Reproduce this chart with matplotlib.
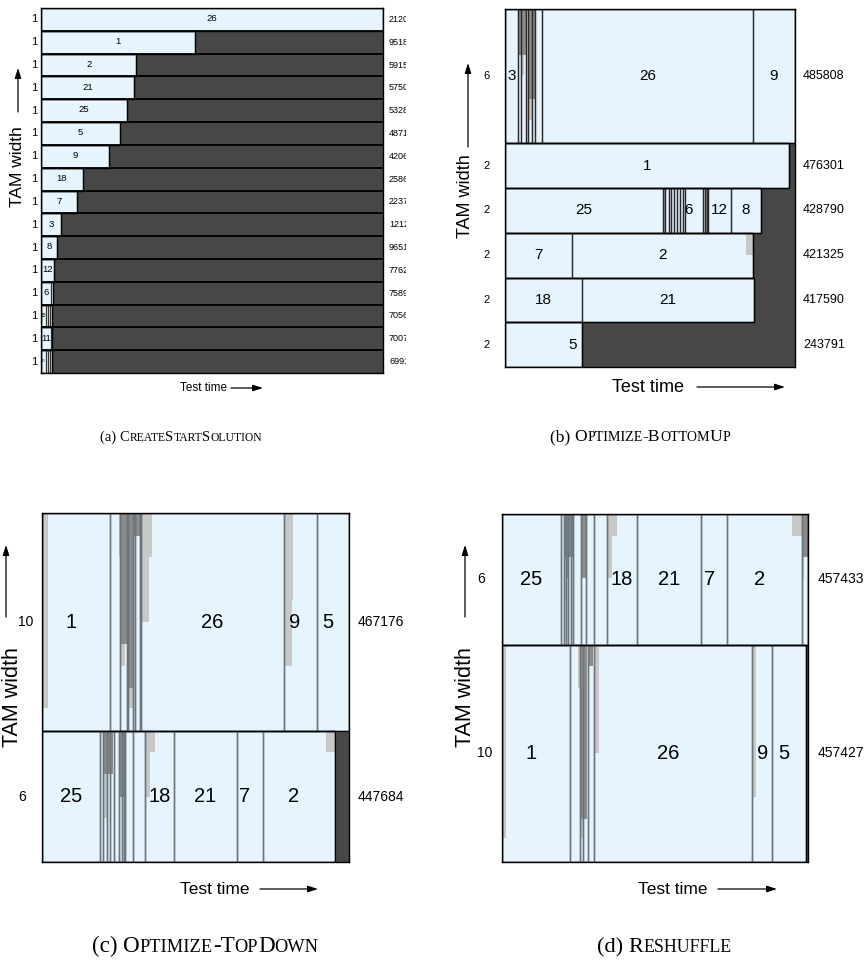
import matplotlib
matplotlib.use('Agg')
import matplotlib.pyplot as plt
from matplotlib.patches import FancyArrowPatch
from matplotlib.transforms import Bbox, TransformedBbox, blended_transform_factory

W, H = 867, 964
fig = plt.figure(figsize=(W / 100, H / 100), dpi=100)

LIGHT = '#e6f4fe'
DARK = '#474747'
MID = '#8c8c8c'
PALE = '#c8c8c8'
GREY = '#a0a0a0'
SANS = ['Liberation Sans', 'DejaVu Sans']
SERIF = ['Liberation Serif', 'DejaVu Serif']

# ---------------- data ----------------
# (a) CreateStartSolution: every core on its own 1-bit TAM
a_cores = ['26', '1', '2', '21', '25', '5', '9', '18', '7', '3', '8', '12', '6', '15', '11', '20']
a_tam = [1] * 16
a_totals = [2120462, 951894, 591522, 575018, 532880, 487124, 420654, 258668,
            223727, 121236, 96513, 77628, 75894, 70564, 70078, 69916]
a_splits = {'6': [61000], '15': [30000, 42000, 55000], '11': [60000], '20': [28000, 42000, 55000]}

# (b) Optimize-BottomUp: rows top to bottom (tam width, time, segments)
b_tam = [6, 2, 2, 2, 2, 2]
b_totals = [485808, 476301, 428790, 421325, 417590, 243791]
b_segs = [
    [(0, 21800, '3'), (21800, 26300, ''), (26300, 35200, ''), (35200, 38000, ''),
     (38000, 45200, ''), (45200, 49700, ''), (49700, 62000, ''),
     (62000, 415400, '26'), (415400, 485808, '9')],
    [(0, 476301, '1')],
    [(0, 265200, '25'), (265200, 268000, ''), (268000, 275200, ''), (275200, 278600, ''),
     (278600, 283100, ''), (283100, 287600, ''), (287600, 293200, ''), (293200, 298700, ''),
     (298700, 301500, ''), (301500, 331200, '6', 308200), (331200, 335000, ''),
     (335000, 337900, ''), (337900, 340000, ''), (340000, 378600, '12'), (378600, 428790, '8')],
    [(0, 112200, '7'), (112200, 415500, '2')],
    [(0, 129000, '18'), (129000, 417590, '21')],
    [(0, 129000, '5', 114000)],
]
b_over = [(0, 24000, 35200, 0, 0.34, MID), (0, 26300, 31800, 0.34, 0.49, PALE),
          (0, 22300, 24000, 0.34, 0.67, PALE), (0, 39000, 50300, 0, 0.67, MID),
          (0, 39000, 45700, 0.67, 0.83, PALE),
          (2, 265200, 268000, 0, 1, GREY), (2, 335000, 337900, 0, 1, GREY),
          (3, 403700, 415500, 0, 0.5, PALE)]

# (c) Optimize-TopDown
c_tam = [10, 6]
c_totals = [467176, 447684]
c_segs = [
    [(0, 103500, '1', 44100), (103500, 118700, ''), (118700, 128900, ''), (128900, 131400, ''),
     (131400, 139000, ''), (139000, 141600, ''), (141600, 149200, ''), (149200, 150700, ''),
     (150700, 368300, '26'), (368300, 418500, '9', 385000), (418500, 467176, '5', 435200)],
    [(0, 88300, '25'), (88300, 93300, ''), (93300, 98400, ''), (98400, 103500, ''),
     (103500, 109500, ''), (109500, 117600, ''), (117600, 121200, ''), (121200, 124700, ''),
     (124700, 126300, ''), (126300, 139000, ''), (139000, 156800, ''),
     (156800, 200900, '18'), (200900, 296700, '21'), (296700, 336300, '7', 308900),
     (336300, 445900, '2', 383000)],
]
c_over = [(0, 0, 9100, 0, 0.895, PALE), (0, 116700, 120400, 0, 0.2, PALE),
          (0, 118700, 128900, 0, 0.60, MID), (0, 118700, 126300, 0.60, 0.70, PALE),
          (0, 130000, 139000, 0, 0.80, MID), (0, 131400, 138000, 0.80, 0.895, PALE),
          (0, 139000, 149200, 0, 0.105, MID),
          (0, 150700, 167400, 0, 0.2, PALE), (0, 150700, 162800, 0.2, 0.5, PALE),
          (0, 368300, 382000, 0, 0.4, PALE), (0, 368300, 380500, 0.4, 0.7, PALE),
          (1, 93300, 108500, 0, 0.33, MID), (1, 93300, 98400, 0.33, 0.66, PALE),
          (1, 117600, 124700, 0, 0.5, MID),
          (1, 158300, 172000, 0, 0.16, PALE), (1, 158300, 164300, 0.16, 0.5, PALE),
          (1, 432200, 445900, 0, 0.16, PALE)]

# (d) Reshuffle
d_tam = [6, 10]
d_totals = [457433, 457427]
d_segs = [
    [(0, 88200, '25'), (88200, 92200, ''), (92200, 95700, ''), (95700, 98700, ''),
     (98700, 102700, ''), (102700, 106600, ''), (106600, 117700, ''), (117700, 125700, ''),
     (125700, 138000, ''), (138000, 156500, ''), (156500, 201300, '18'),
     (201300, 297500, '21'), (297500, 336800, '7', 309900), (336800, 448000, '2', 384700),
     (448000, 457433, '')],
    [(0, 101200, '1', 42900), (101200, 116600, ''), (116600, 121600, ''), (121600, 129000, ''),
     (129000, 138000, ''), (138000, 374200, '26', 247700), (374200, 404100, '9'),
     (404100, 455000, '5', 422000)],
]
d_over = [(0, 92200, 106600, 0, 0.33, MID), (0, 92200, 95700, 0.33, 0.66, PALE),
          (0, 95700, 98700, 0.33, 0.49, MID), (0, 119200, 125700, 0, 0.49, MID),
          (0, 156500, 172300, 0, 0.17, PALE), (0, 156500, 163700, 0.17, 0.49, PALE),
          (0, 434000, 448000, 0, 0.17, PALE), (0, 448000, 457433, 0, 0.33, MID),
          (0, 448000, 452000, 0.33, 0.49, PALE),
          (1, 0, 6000, 0, 0.89, PALE), (1, 114100, 117700, 0, 0.2, PALE),
          (1, 117700, 126600, 0, 0.8, MID), (1, 117700, 121200, 0.8, 0.89, PALE),
          (1, 129000, 136500, 0, 0.1, MID), (1, 138000, 145500, 0, 0.5, PALE),
          (1, 374200, 379200, 0, 0.7, PALE)]

# build panel (a) rows from the core list
a_segs = []
for core, tot in zip(a_cores, a_totals):
    br = [0] + a_splits.get(core, []) + [tot]
    a_segs.append([(br[i], br[i + 1], core if i == 0 else '') for i in range(len(br) - 1)])
a_small = {'15': 3.5, '20': 3.0}


def fx(x):
    return x / W


def fy(y):
    return 1 - y / H


def panel(rect, xmax, tams, totals, segs, overlays, st):
    x0, y0, x1, y1 = rect
    ax = fig.add_axes([fx(x0), fy(y1), (x1 - x0) / W, (y1 - y0) / H])
    ax.set_facecolor(DARK)
    total = sum(tams)
    ax.set_xlim(0, xmax)
    ax.set_ylim(0, total)
    ax.set_xticks([])
    ax.set_yticks([])
    for sp in ax.spines.values():
        sp.set_color('black')
        sp.set_linewidth(1.0)
        sp.set_zorder(10)
    bottoms = []
    top = total
    for w in tams:
        top -= w
        bottoms.append(top)
    for w, b, row in zip(tams, bottoms, segs):
        ax.barh([b] * len(row), [s[1] - s[0] for s in row], left=[s[0] for s in row],
                height=w, align='edge', color=LIGHT, linewidth=0, zorder=1)
    for ri, s, e, f0, f1, c in overlays:
        w = tams[ri]
        ax.barh(bottoms[ri] + w * (1 - f1), e - s, left=s, height=w * (f1 - f0),
                align='edge', color=c, linewidth=0, zorder=2)
    for w, b, row in zip(tams, bottoms, segs):
        ax.barh([b] * len(row), [s[1] - s[0] for s in row], left=[s[0] for s in row],
                height=w, align='edge', fill=False, edgecolor=st['edge'],
                linewidth=st['elw'], zorder=3)
        end = max(s[1] for s in row)
        ax.barh(b, end, left=0, height=w, align='edge', fill=False,
                edgecolor='black', linewidth=1.0, zorder=4)
    if st.get('sep'):
        ax.hlines(bottoms[:-1], 0, xmax, color='black', linewidth=1.3, zorder=4)
    for w, b, row in zip(tams, bottoms, segs):
        for s in row:
            if s[2]:
                xp = s[3] if len(s) > 3 else (s[0] + s[1]) / 2
                ax.text(xp, b + w / 2 + st.get('lab_dy', 0) * w, s[2], ha='center',
                        va='center', fontsize=st.get('small', {}).get(s[2], st['lab_fs']),
                        family=SANS, zorder=6)
    tl = blended_transform_factory(fig.transFigure, ax.transData)
    for w, b, tot in zip(tams, bottoms, totals):
        fig.text(fx(st['left_x']), b + w / 2, str(w), transform=tl, ha='left', va='center',
                 fontsize=st['left_fs'], family=SANS)
        t = fig.text(fx(st['right_x']), b + w / 2, str(tot), transform=tl, ha='left',
                     va='center', fontsize=st['right_fs'], family=SANS)
        if st.get('clip'):
            t.set_clip_box(TransformedBbox(Bbox([[0, 0], [fx(st['clip']), 1]]), fig.transFigure))
            t.set_clip_on(True)
    return ax


def arrow(p0, p1):
    fig.add_artist(FancyArrowPatch((fx(p0[0]), fy(p0[1])), (fx(p1[0]), fy(p1[1])),
                                   transform=fig.transFigure,
                                   arrowstyle='-|>,head_length=0.5,head_width=0.16',
                                   mutation_scale=12, linewidth=0.9, color='black',
                                   shrinkA=0, shrinkB=0))


def xlabel(cx, cy, fs, a0, a1):
    fig.text(fx(cx), fy(cy), 'Test time', ha='center', va='center', fontsize=fs, family=SANS)
    arrow((a0, cy), (a1, cy))


def ylabel(cx, cy, fs, ax_x, a0, a1):
    fig.text(fx(cx), fy(cy), 'TAM width', ha='center', va='center', rotation=90,
             fontsize=fs, family=SANS)
    arrow((ax_x, a0), (ax_x, a1))


def caption(cx, base, prefix, title, target_w, ratio=0.8):
    r = fig.canvas.get_renderer()
    runs = [[prefix, False]]
    for ch in title:
        small = ch.islower()
        c = ch.upper() if small else ch
        if runs[-1][1] == small and len(runs) > 1:
            runs[-1][0] += c
        else:
            runs.append([c, small])
    base_fs = 12.0
    texts = []
    for s, small in runs:
        t = fig.text(0, 0, s, fontsize=base_fs * ratio if small else base_fs, family=SERIF,
                     ha='left', va='baseline')
        texts.append((t, small))
    tot = sum(t.get_window_extent(r).width for t, _ in texts)
    fs = base_fs * target_w / tot
    widths = []
    for t, small in texts:
        t.set_fontsize(fs * ratio if small else fs)
        widths.append(t.get_window_extent(r).width)
    x = cx - sum(widths) / 2
    for (t, _), wpx in zip(texts, widths):
        t.set_position((fx(x), fy(base)))
        x += wpx


st_a = dict(edge='#333333', elw=0.8, lab_fs=6.8, left_fs=8, right_fs=6.5,
            left_x=31, right_x=389, clip=406, sep=True, small=a_small, lab_dy=0.03)
st_b = dict(edge='#2a2a2a', elw=0.9, lab_fs=11, left_fs=8, right_fs=9,
            left_x=483, right_x=803)
st_c = dict(edge='#6b767c', elw=1.0, lab_fs=14.5, left_fs=10, right_fs=10,
            left_x=18, right_x=358)
st_d = dict(edge='#6b767c', elw=1.0, lab_fs=14.5, left_fs=10, right_fs=10,
            left_x=477, right_x=818)

panel((41, 8, 383, 373), a_totals[0], a_tam, a_totals, a_segs, [], st_a)
panel((505, 9, 795, 367), b_totals[0], b_tam, b_totals, b_segs, b_over, st_b)
panel((42, 513, 349, 862), c_totals[0], c_tam, c_totals, c_segs, c_over, st_c)
panel((502, 514, 808, 862), d_totals[0], d_tam, d_totals, d_segs, d_over, st_d)

xlabel(203, 388, 8.5, 231, 263)
ylabel(18, 167, 12.5, 18, 112, 68)
xlabel(648, 387, 13, 697, 785)
ylabel(466, 196, 13, 468, 147, 63)
xlabel(215, 889, 12.5, 260, 318)
ylabel(13, 697, 15.5, 6, 617, 545)
xlabel(673, 889, 12.5, 718, 777)
ylabel(466, 697, 15.5, 465, 617, 545)

caption(181, 441, '(a) ', 'CreateStartSolution', 162)
caption(640, 441, '(b) ', 'Optimize-BottomUp', 180)
caption(205, 952, '(c) ', 'Optimize-TopDown', 226)
caption(664, 952, '(d) ', 'Reshuffle', 135)

fig.savefig('out.png', dpi=100)
